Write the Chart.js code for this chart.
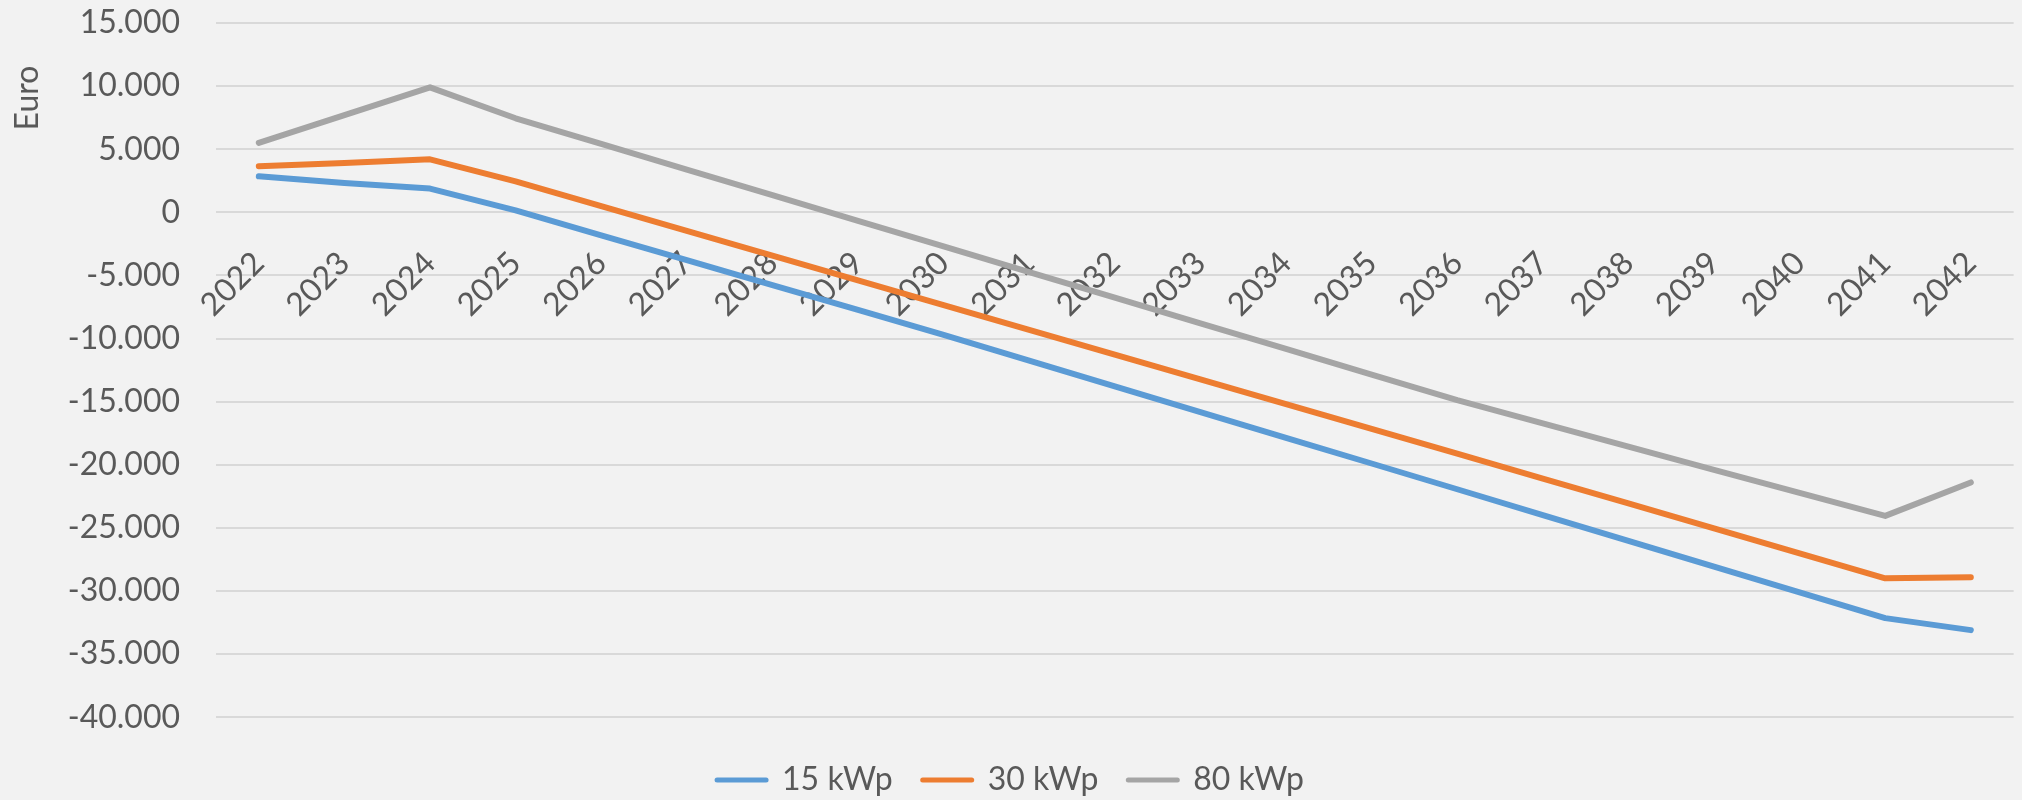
<!DOCTYPE html>
<html>
<head>
	<title>Euro</title>
	<script src="https://cdn.jsdelivr.net/npm/chart.js"></script>
	<style>
		html, body { margin: 0; padding: 0; background: #f2f2f2; }
		#wrap { width: 2022px; height: 800px; }
	</style>
</head>
<body>
	<div id="wrap">
		<canvas id="myChart" width="2022" height="800"></canvas>
	</div>
</body>

<script>
    const years = ['2022', '2023', '2024', '2025', '2026', '2027', '2028', '2029', '2030', '2031', '2032',
                   '2033', '2034', '2035', '2036', '2037', '2038', '2039', '2040', '2041', '2042'];

    const kwp15 = [2850, 2330, 1880, 150, -1820, -3790, -5760, -7730, -9700, -11740, -13780,
                   -15820, -17860, -19900, -21940, -23990, -26030, -28070, -30110, -32150, -33100];
    const kwp30 = [3650, 3910, 4200, 2450, 490, -1470, -3430, -5390, -7350, -9310, -11270,
                   -13230, -15190, -17150, -19110, -21090, -23060, -25040, -27020, -29000, -28920];
    const kwp80 = [5500, 7700, 9900, 7450, 5420, 3390, 1360, -670, -2700, -4730, -6760,
                   -8790, -10820, -12850, -14880, -16720, -18560, -20400, -22230, -24050, -21400];

    const yMin = -40000;
    const yMax = 15000;
    const yStep = 5000;

    const textColor = '#595959';
    const fontFamily = 'Lato, "Open Sans", sans-serif';

    // 15.000 style labels
    function fmt(v) {
        const s = Math.abs(v).toString().replace(/\B(?=(\d{3})+(?!\d))/g, '.');
        return (v < 0 ? '-' : '') + s;
    }

    // axis title sits near the top, like the excel one
    const yTitle = {
        id: 'yTitle',
        afterDraw(chart) {
            const c = chart.ctx;
            c.save();
            c.translate(28, 98);
            c.rotate(-Math.PI / 2);
            c.font = '32px ' + fontFamily;
            c.fillStyle = textColor;
            c.textAlign = 'center';
            c.textBaseline = 'middle';
            c.fillText('Euro', 0, 0);
            c.restore();
        }
    };

    const ctx = document.getElementById('myChart');

    new Chart(ctx, {
      type: 'line',
      data: {
        labels: years,
        datasets: [
          { label: '15 kWp', data: kwp15, borderColor: '#5b9bd5', backgroundColor: '#5b9bd5' },
          { label: '30 kWp', data: kwp30, borderColor: '#ed7d31', backgroundColor: '#ed7d31' },
          { label: '80 kWp', data: kwp80, borderColor: '#a5a5a5', backgroundColor: '#a5a5a5' }
        ]
      },
      options: {
        responsive: false,
        animation: false,
        devicePixelRatio: 1,
        layout: { padding: { left: 0, top: 23, right: 1, bottom: -6 } },
        elements: {
          line: { borderWidth: 6, tension: 0, borderCapStyle: 'round', borderJoinStyle: 'round' },
          point: { radius: 0, hoverRadius: 0 }
        },
        plugins: {
          tooltip: { enabled: false },
          legend: {
            position: 'bottom',
            // empty title only pushes the row down a bit
            title: { display: true, text: '', font: { size: 14 }, padding: 0 },
            labels: {
              usePointStyle: true,
              pointStyle: 'line',
              pointStyleWidth: 49,
              color: textColor,
              font: { family: fontFamily, size: 32 },
              padding: 30,
              generateLabels(chart) {
                const items = Chart.defaults.plugins.legend.labels.generateLabels(chart);
                items.forEach(it => { it.lineWidth = 5; it.lineCap = 'round'; });
                return items;
              }
            }
          }
        },
        scales: {
          x: {
            type: 'category',
            offset: true,
            position: { y: 0 },
            grid: { display: false },
            border: { display: false },
            ticks: {
              autoSkip: false,
              minRotation: 45,
              maxRotation: 45,
              padding: 24,
              color: textColor,
              font: { family: fontFamily, size: 32 }
            }
          },
          y: {
            min: yMin,
            max: yMax,
            grid: { color: '#d9d9d9', lineWidth: 2, drawTicks: true, tickLength: 36, tickColor: 'rgba(0,0,0,0)' },
            border: { display: false },
            ticks: {
              stepSize: yStep,
              padding: 0,
              color: textColor,
              font: { family: fontFamily, size: 32 },
              callback: v => fmt(v)
            },
            afterFit(scale) { scale.width = 216; }
          }
        }
      },
      plugins: [yTitle]
    });
</script>
</html>
